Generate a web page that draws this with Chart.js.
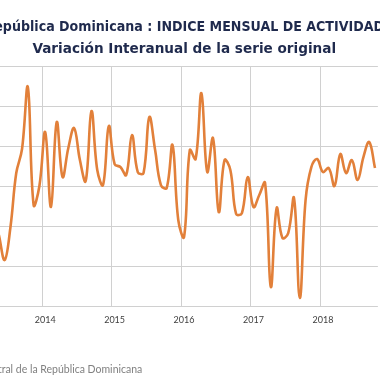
<!DOCTYPE html>
<html>
<head>
<meta charset="utf-8">
<title>IMAE - Variación Interanual</title>
<script src="https://cdn.jsdelivr.net/npm/chart.js@4.4.1/dist/chart.umd.min.js"></script>
<style>
  html, body { margin: 0; padding: 0; background: #fff; overflow: hidden; }
  #wrap { position: relative; width: 380px; height: 380px; overflow: hidden; }
  #imaeChart { position: absolute; left: -20px; top: 0; }
</style>
</head>
<body>
<div id="wrap"><canvas id="imaeChart" width="404" height="380"></canvas></div>
<script>
// variacion interanual (%) del IMAE, mayo 2013 - octubre 2018
var months = ["Ene", "Feb", "Mar", "Abr", "May", "Jun", "Jul", "Ago", "Sep", "Oct", "Nov", "Dic"];
var var2013 = [3.55, 2.3, 3.95, 6.65, 7.85, 10.95, 5.05, 6.0]; // may-dic
var var2014 = [8.7, 4.95, 9.2, 6.45, 7.9, 8.9, 7.3, 6.25, 9.75, 6.8, 6.05, 9.0];
var var2015 = [7.1, 6.95, 6.55, 8.55, 6.7, 6.65, 9.45, 7.8, 6.05, 5.9, 8.05, 4.3];
var var2016 = [3.45, 7.8, 7.35, 10.65, 6.7, 8.4, 4.7, 7.3, 6.8, 4.6, 4.65, 6.45];
var var2017 = [4.95, 5.55, 6.15, 0.95, 4.9, 3.4, 3.65, 5.4, 0.4, 5.3, 6.95, 7.35];
var var2018 = [6.7, 6.9, 6.0, 7.6, 6.65, 7.3, 6.3, 7.45, 8.2, 6.9]; // ene-oct
var yearTicks = ["2014", "2015", "2016", "2017", "2018"];
var yTicks = [0, 2, 4, 6, 8, 10, 12];

var titleLines = ["República Dominicana : INDICE MENSUAL DE ACTIVIDAD", "Variación Interanual de la serie original"];
var sourceText = "Fuente: Banco Central de la República Dominicana";

function buildLabels() {
  var out = [];
  var series = [[2013, var2013, 4], [2014, var2014, 0], [2015, var2015, 0],
                [2016, var2016, 0], [2017, var2017, 0], [2018, var2018, 0]];
  series.forEach(function (s) {
    for (var i = 0; i < s[1].length; i++) {
      out.push(months[s[2] + i] + " " + s[0]);
    }
  });
  return out;
}

var labels = buildLabels();
var values = [].concat(var2013, var2014, var2015, var2016, var2017, var2018);

function isJanuary(idx) {
  var l = labels[idx];
  return l !== undefined && l.indexOf("Ene") === 0;
}

// texto de la fuente al pie
var footerPlugin = {
  id: "footerText",
  afterDraw: function (chart) {
    var c = chart.ctx;
    c.save();
    c.font = "10.5px Lato";
    c.fillStyle = "#808080";
    c.textBaseline = "alphabetic";
    c.fillText(sourceText, -69, 373);
    c.restore();
  }
};

function render_chart() {
  var ctx = document.getElementById("imaeChart").getContext("2d");
  var gridColor = "#d0d0d0";
  var imaeChart = new Chart(ctx, {
    type: "line",
    data: {
      labels: labels,
      datasets: [{
        label: "Variación interanual",
        data: values,
        borderColor: "#E2803A",
        borderWidth: 2.6,
        pointRadius: 0,
        tension: 0.4,
        fill: false
      }]
    },
    options: {
      responsive: false,
      animation: false,
      devicePixelRatio: 1,
      layout: { padding: { left: 4.5, right: 0, top: 0, bottom: 0 } },
      plugins: {
        legend: { display: false },
        tooltip: { enabled: false },
        title: {
          display: true,
          text: titleLines,
          color: "#1f2a4d",
          font: { family: "DejaVu Sans", size: 13.6, weight: "bold", lineHeight: 1.62 },
          padding: { top: 16, bottom: 6 }
        }
      },
      scales: {
        x: {
          offset: true,
          border: { display: false },
          grid: {
            offset: true,
            drawTicks: false,
            color: function (c) { return isJanuary(c.index) ? gridColor : "rgba(0,0,0,0)"; }
          },
          ticks: {
            autoSkip: false,
            maxRotation: 0,
            padding: 9,
            color: "#404040",
            font: { family: "Lato", size: 9 },
            callback: function (value) {
              var l = this.getLabelForValue(value);
              if (l.indexOf("Ene") !== 0) return "";
              var yr = l.split(" ")[1];
              return yearTicks.indexOf(yr) >= 0 ? yr : "";
            }
          },
          afterFit: function (scale) { scale.height = 74; }
        },
        y: {
          min: yTicks[0],
          max: yTicks[yTicks.length - 1],
          border: { display: false },
          grid: { color: gridColor, drawTicks: false },
          ticks: { display: false, stepSize: 2 },
          afterFit: function (scale) { scale.width = 11.5; }
        }
      }
    },
    plugins: [footerPlugin]
  });
}

render_chart();
</script>
</body>
</html>
